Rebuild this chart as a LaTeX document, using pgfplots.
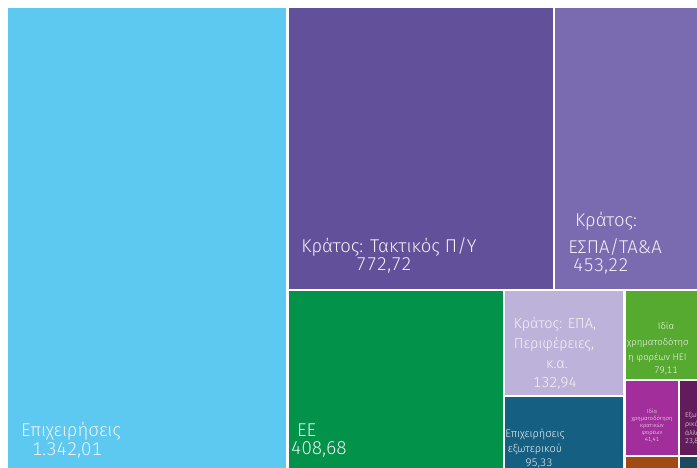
\documentclass[border=0pt]{standalone}
\usepackage{pgfplots}
\pgfplotsset{compat=1.18}
\usepackage{fontspec}
\setmainfont{Fira Sans}[UprightFont=* Light, Numbers=Monospaced]
\definecolor{cBlue}{HTML}{5DC9F1}
\definecolor{cPurA}{HTML}{63509A}
\definecolor{cPurB}{HTML}{7A6AB0}
\definecolor{cGreen}{HTML}{03924A}
\definecolor{cLav}{HTML}{BDB3DA}
\definecolor{cTeal}{HTML}{155F83}
\definecolor{cLGreen}{HTML}{57AA30}
\definecolor{cMag}{HTML}{A22E9B}
\definecolor{cPlum}{HTML}{631C5B}
\definecolor{cOrange}{HTML}{A04A14}
\definecolor{cDTeal}{HTML}{1D4A5E}
\tikzset{lbl/.style={text=white!95!black, inner sep=0pt, anchor=base},
  lbll/.style={text=white!95!black, inner sep=0pt, anchor=base west},
  big/.style={font=\fontsize{18.5}{18.5}\selectfont},
  mid/.style={font=\fontsize{14.5}{14.5}\selectfont},
  sml/.style={font=\fontsize{11}{11}\selectfont},
  xs/.style={font=\fontsize{9.5}{9.5}\selectfont},
  tiny/.style={font=\fontsize{5.8}{5.8}\selectfont},
  tin2/.style={font=\fontsize{7}{7}\selectfont}}
\begin{document}
\begin{tikzpicture}
\begin{axis}[width=697pt,height=468pt,scale only axis,hide axis,
  xmin=0,xmax=697,ymin=0,ymax=468,y dir=reverse,clip=true]
% Treemap tiles: values 1342.01, 772.72, 453.22, 408.68, 132.94, 95.33, 79.11, 41.41, 23.8
\addplot[fill=cBlue,draw=none] coordinates {(8,8) (286,8) (286,468) (8,468)};
\addplot[fill=cPurA,draw=none] coordinates {(289,8) (553,8) (553,289) (289,289)};
\addplot[fill=cPurB,draw=none] coordinates {(555,8) (697,8) (697,289) (555,289)};
\addplot[fill=cGreen,draw=none] coordinates {(289,291) (503,291) (503,468) (289,468)};
\addplot[fill=cLav,draw=none] coordinates {(505,291) (623,291) (623,395) (505,395)};
\addplot[fill=cTeal,draw=none] coordinates {(505,397) (623,397) (623,468) (505,468)};
\addplot[fill=cLGreen,draw=none] coordinates {(626,291) (697,291) (697,379) (626,379)};
\addplot[fill=cMag,draw=none] coordinates {(626,381) (678,381) (678,455) (626,455)};
\addplot[fill=cPlum,draw=none] coordinates {(680,381) (697,381) (697,455) (680,455)};
\addplot[fill=cOrange,draw=none] coordinates {(626,457) (678,457) (678,468) (626,468)};
\addplot[fill=cDTeal,draw=none] coordinates {(680,457) (697,457) (697,468) (680,468)};
% labels
\node[lbl,big] at (axis cs:71,436) {Επιχειρήσεις};
\node[lbl,big] at (axis cs:67,455) {1.342,01};
\node[lbl,big] at (axis cs:389,253) {Κράτος: Τακτικός Π/Υ};
\node[lbl,big] at (axis cs:384,271) {772,72};
\node[lbl,big] at (axis cs:606,226) {Κράτος:};
\node[lbl,big] at (axis cs:615,254) {ΕΣΠΑ/ΤΑ\&Α};
\node[lbl,big] at (axis cs:601,272) {453,22};
\node[lbll,big] at (axis cs:297,436) {ΕΕ};
\node[lbll,big] at (axis cs:291,454) {408,68};
\node[lbl,mid] at (axis cs:555,328) {Κράτος: ΕΠΑ,};
\node[lbl,mid] at (axis cs:554,348) {Περιφέρειες,};
\node[lbl,mid] at (axis cs:557,368) {κ.α.};
\node[lbl,mid] at (axis cs:555,387) {132,94};
\node[lbl,sml] at (axis cs:535,437) {Επιχειρήσεις};
\node[lbl,sml] at (axis cs:535,452) {εξωτερικού};
\node[lbl,sml] at (axis cs:539,466) {95,33};
\node[lbl,xs] at (axis cs:666,330) {Ιδία};
\node[lbll,xs] at (axis cs:627,345) {χρηματοδότησ};
\node[lbll,xs] at (axis cs:628,360) {η φορέων ΗΕΙ};
\node[lbl,xs] at (axis cs:666,373) {79,11};
\node[lbl,tiny] at (axis cs:652,413) {Ιδία};
\node[lbl,tiny] at (axis cs:652,420) {χρηματοδότηση};
\node[lbl,tiny] at (axis cs:652,427) {κρατικών};
\node[lbl,tiny] at (axis cs:652,434) {φορέων};
\node[lbl,tiny] at (axis cs:652,441) {41,41};
\node[lbll,tin2] at (axis cs:685,417) {Εξωτε};
\node[lbll,tin2] at (axis cs:685,426) {ρικό:};
\node[lbll,tin2] at (axis cs:685,435) {άλλοι};
\node[lbll,tin2] at (axis cs:685,443) {23,81};
\end{axis}
\pgfresetboundingbox
\path[use as bounding box] (current axis.south west) rectangle (current axis.north east);
\end{tikzpicture}
\end{document}
